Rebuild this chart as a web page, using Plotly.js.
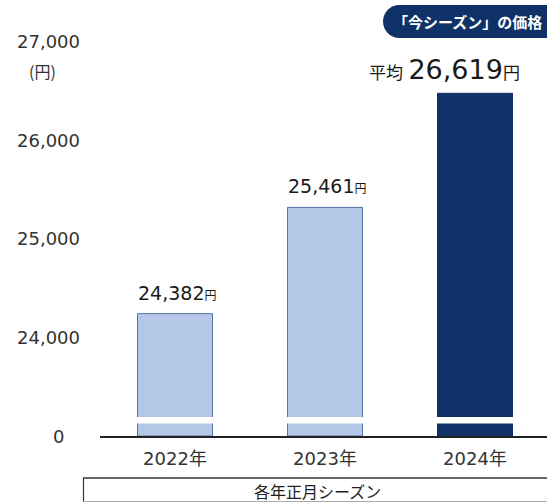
<!DOCTYPE html>
<html><head><meta charset="utf-8">
<script src="https://cdn.plot.ly/plotly-3.0.1.min.js"></script>
<style>html,body{margin:0;padding:0;background:#fff}#chart{width:547px;height:502px}</style>
</head><body><div id="chart"></div>
<script>
// ---- data ----
const categories = ["2022年", "2023年", "2024年"];
const prices = [24382, 25461, 26619];
const labelPrefix = ["", "", "平均 "];
const yTickValues = [24000, 25000, 26000, 27000];
const yTickLabels = ["24,000", "25,000", "26,000", "27,000"];
const zeroLabel = "0";
const unitLabel = "(円)";
const badgeText = "「今シーズン」の価格";
const groupLabel = "各年正月シーズン";

// broken axis: value drawn at the axis line
const axisBase = 23140;
const shifted = prices.map(v => v - axisBase);

const light = "rgb(180,199,231)";
const lightLine = "rgb(84,114,165)";
const navy = "rgb(14,49,103)";
const barColors = prices.map((v, i) => i === prices.length - 1 ? navy : light);
const barLines = prices.map((v, i) => i === prices.length - 1 ? navy : lightLine);

const NUM = "DejaVu Sans, Noto Sans CJK JP, sans-serif";
const JP = "Noto Sans CJK JP, sans-serif";

const trace = {
  type: "bar", x: categories, y: shifted, width: 0.5,
  marker: {color: barColors, line: {color: barLines, width: 1}},
  hoverinfo: "skip"
};

const fmt = v => v.toLocaleString("en-US");
const annotations = prices.map((v, i) => {
  const last = i === prices.length - 1;
  return {
    xref: "x", yref: "y", x: categories[i], y: shifted[i],
    yanchor: "middle", yshift: last ? 24 : 21, xshift: last ? -31 : 2,
    showarrow: false,
    text: last
      ? `<span style="font-size:17px">${labelPrefix[i]}</span><span style="font-size:27px">${fmt(v)}</span><span style="font-size:17px">円</span>`
      : `${labelPrefix[i]}${fmt(v)}<span style="font-size:12px">円</span>`,
    font: {family: NUM, size: 19, color: "#1a1a1a"}
  };
});
annotations.push({xref: "paper", yref: "y", x: 0, y: 0, xanchor: "right", xshift: -34, yanchor: "middle",
  showarrow: false, text: zeroLabel, font: {family: NUM, size: 18, color: "#333"}});
annotations.push({xref: "paper", yref: "paper", x: (42 - 100) / 447, y: (436 - 71) / 416, xanchor: "center", yanchor: "middle",
  showarrow: false, text: unitLabel, font: {family: JP, size: 16, color: "#333"}});
annotations.push({xref: "paper", yref: "paper", x: (467 - 100) / 447, y: (436 - 22) / 416, xanchor: "center", yanchor: "middle",
  showarrow: false, text: "<b>" + badgeText + "</b>", font: {family: JP, size: 15, color: "#fff"}});
annotations.push({xref: "paper", yref: "paper", x: (317 - 100) / 447, y: (436 - 491) / 416, xanchor: "center", yanchor: "middle",
  showarrow: false, text: groupLabel, font: {family: JP, size: 16, color: "#222"}});

// pill badge path in paper coords
const px = x => (x - 100) / 447, py = y => (436 - y) / 416;
const bx0 = 383, bx1 = 560, by0 = 5, by1 = 38, r = 16.5, k = 0.552 * r;
const badgePath = `M ${px(bx0 + r)},${py(by0)} L ${px(bx1)},${py(by0)} L ${px(bx1)},${py(by1)} L ${px(bx0 + r)},${py(by1)} ` +
  `C ${px(bx0 + r - k)},${py(by1)} ${px(bx0)},${py(by1 - r + k)} ${px(bx0)},${py(by1 - r)} ` +
  `C ${px(bx0)},${py(by0 + r - k)} ${px(bx0 + r - k)},${py(by0)} ${px(bx0 + r)},${py(by0)} Z`;

const shapes = [
  // break stripe
  {type: "rect", xref: "paper", yref: "paper", x0: 0, x1: 1, y0: py(423.5), y1: py(417), fillcolor: "#fff", line: {width: 0}, layer: "above"},
  // badge
  {type: "path", xref: "paper", yref: "paper", path: badgePath, fillcolor: navy, line: {width: 0}},
  // group box
  {type: "line", xref: "paper", yref: "paper", x0: px(83), x1: px(560), y0: py(478), y1: py(478), line: {color: "#333", width: 1.5}},
  {type: "line", xref: "paper", yref: "paper", x0: px(83.5), x1: px(83.5), y0: py(478), y1: py(502), line: {color: "#333", width: 1.2}},
  {type: "line", xref: "paper", yref: "paper", x0: px(83), x1: px(560), y0: py(501.5), y1: py(501.5), line: {color: "#aaa", width: 1}}
];

const layout = {
  width: 547, height: 502,
  margin: {l: 100, r: 0, t: 20, b: 66},
  paper_bgcolor: "#fff", plot_bgcolor: "#fff",
  showlegend: false,
  xaxis: {
    range: [-0.5, 2.48], showline: true, linecolor: "#222", linewidth: 1.5,
    ticks: "", showgrid: false, zeroline: false, fixedrange: true,
    tickfont: {family: NUM, size: 18, color: "#333"}, ticklabelstandoff: 6
  },
  yaxis: {
    range: [0, 4223], showline: false, showgrid: false, zeroline: false, ticks: "",
    tickvals: yTickValues.map(v => v - axisBase), ticktext: yTickLabels,
    tickfont: {family: NUM, size: 18, color: "#333"},
    ticklabelshift: -14, ticklabelstandoff: 19, fixedrange: true
  },
  annotations: annotations,
  shapes: shapes
};

Plotly.newPlot("chart", [trace], layout, {displayModeBar: false, staticPlot: true});
</script></body></html>
